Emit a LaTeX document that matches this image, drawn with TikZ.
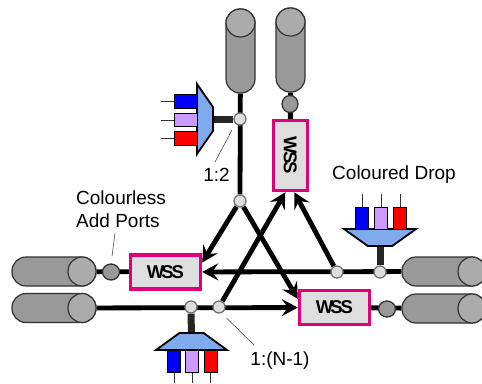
\documentclass[tikz,border=0pt]{standalone}
\usepackage{fontspec}
\setmainfont{Liberation Sans}
\usetikzlibrary{arrows.meta,shapes.geometric,backgrounds}
\definecolor{wssedge}{HTML}{E0007A}
\definecolor{muxfill}{HTML}{7FAAEE}
\definecolor{lilac}{HTML}{CC99FF}
\tikzset{
  fibre/.style={draw=black!80,fill=black!40,line width=1.2pt,rounded corners=14pt,inner sep=0pt,
    minimum width=84pt,minimum height=29pt},
  fibrecap/.style={ellipse,draw=black!80,fill=black!33,line width=1.2pt,inner sep=0pt,anchor=east,
    minimum width=28pt,minimum height=29pt},
  wss/.style={draw=wssedge,fill=black!13,line width=3.4pt,inner sep=0pt,minimum width=70pt,minimum height=34pt,
    font=\fontsize{18.5}{18.5}\selectfont\bfseries},
  tap/.style={circle,draw=black!55,fill=black!13,line width=1.3pt,inner sep=0pt,minimum size=12pt},
  amp/.style={ellipse,draw=black!80,fill=black!40,line width=1.3pt,inner sep=0pt,minimum width=17pt,minimum height=16pt},
  mux/.style={trapezium,trapezium stretches=true,trapezium left angle=46,trapezium right angle=46,draw=black,fill=muxfill,
    line width=1.8pt,inner sep=1pt},
  chan/.style={draw=black,line width=1pt,inner sep=0pt},
  fat/.style={line width=4.8pt},
  bar/.style={line width=7pt,black!85},
  link/.style={line width=4.8pt,-{Stealth[length=16pt,width=17pt,inset=6pt]}},
  note/.style={line width=.5pt,black!80},
  lbl/.style={font=\fontsize{19}{23}\selectfont,inner sep=0pt,align=left}
}
\newcommand{\fibreat}[4]{%
  \node [fibre,rotate=#4] (#1) at (#2,#3) {};
  \node [fibrecap,rotate=#4] (#1cap) at (#1.east) {};
}
\begin{document}
\begin{tikzpicture}[x=1pt,y=-1pt]
\useasboundingbox (0,0) rectangle (482,383);
% fibres
\fibreat{fibA}{240.5}{51}{90}
\fibreat{fibB}{290.5}{50}{90}
\fibreat{fibC}{54}{271.5}{0}
\fibreat{fibD}{54}{308}{0}
\fibreat{fibE}{444}{271.5}{0}
\fibreat{fibF}{444}{308.5}{0}
% switches
\node [wss] (wssL) at (165.5,272) {W\kern-3pt S\kern-2pt S};
\node [wss] (wssR) at (334.5,307.5) {W\kern-3pt S\kern-2pt S};
\node [wss,rotate=270] (wssT) at (290.3,155.5) {W\kern-3pt S\kern-2pt S};
% small ovals
\node [amp] (ampL) at (111,272) {};
\node [amp] (ampR) at (387,309) {};
\node [amp,minimum width=16pt,minimum height=17pt] (ampT) at (290,104) {};
% taps
\node [tap] (tapA) at (240,119) {};
\node [tap] (tapB) at (240,201) {};
\node [tap] (tapC) at (191,307) {};
\node [tap] (tapD) at (219,307) {};
\node [tap] (tapE) at (337,272) {};
\node [tap] (tapF) at (380,272) {};
% muxes
\node [mux,rotate=270,minimum width=70pt,minimum height=16pt] (muxA) at (205,119) {};
\node [mux,minimum width=71pt,minimum height=17pt] (muxB) at (191.5,341.5) {};
\node [mux,rotate=180,minimum width=72pt,minimum height=17pt] (muxC) at (380,237.5) {};
% channels
\foreach \nm/\col/\yy in {1/blue/101.5,2/lilac/120,3/red/138.5} {
  \node [chan,fill=\col,minimum width=23pt,minimum height=13.5pt] (chA\nm) at (185.5,\yy) {};
  \coordinate (endA\nm) at (161,\yy);
  \draw [note] (chA\nm.west) -- (endA\nm);
}
\foreach \nm/\col/\xx in {1/blue/174,2/lilac/192,3/red/210.5} {
  \node [chan,fill=\col,minimum width=13pt,minimum height=22pt] (chB\nm) at (\xx,361) {};
  \coordinate (endB\nm) at (\xx,383);
  \draw [note] (chB\nm.south) -- (endB\nm);
}
\foreach \nm/\col/\xx in {1/blue/362,2/lilac/381,3/red/400} {
  \node [chan,fill=\col,minimum width=13.5pt,minimum height=22pt] (chC\nm) at (\xx,218) {};
  \coordinate (endC\nm) at (\xx,194);
  \draw [note] (chC\nm.north) -- (endC\nm);
}
% labels
\node [lbl,anchor=west] (lblAdd) at (76,209) {Colourless\\Add Ports};
\node [lbl] (lblDrop) at (394,175) {Coloured Drop};
\node [lbl] (lblTwo) at (216.5,174.5) {1:2};
\node [lbl] (lblN) at (280,361) {1:(N-1)};
\coordinate (ptrAddA) at (115,233);
\coordinate (ptrAddB) at (112,256);
\coordinate (ptrTwoA) at (232,130);
\coordinate (ptrTwoB) at (215,162);
\coordinate (ptrNA) at (226.5,318);
\coordinate (ptrNB) at (254,345);
\draw [note] (ptrAddA) -- (ptrAddB);
\draw [note] (ptrTwoA) -- (ptrTwoB);
\draw [note] (ptrNA) -- (ptrNB);
\begin{scope}[on background layer]
\draw [fat] (fibA) -- (tapB);
\draw [fat] (fibB) -- (wssT);
\draw [fat] (fibC) -- (wssL);
\draw [fat] (wssR) -- (fibF);
\draw [bar] (tapA) -- (muxA);
\draw [bar] (tapC) -- (muxB);
\draw [bar] (tapF) -- (muxC);
% arrows
\draw [link] (tapB) -- ([yshift=9.5pt]wssL.east);
\draw [link] (tapB) -- ([yshift=8.5pt]wssR.west);
\draw [link] (tapD) -- ([xshift=-5pt]wssT.east);
\draw [link] (tapE) -- ([xshift=4pt]wssT.east);
\draw [link] (fibE) -- (wssL);
\draw [link] (fibD) -- (wssR);
\end{scope}
\end{tikzpicture}
\end{document}
